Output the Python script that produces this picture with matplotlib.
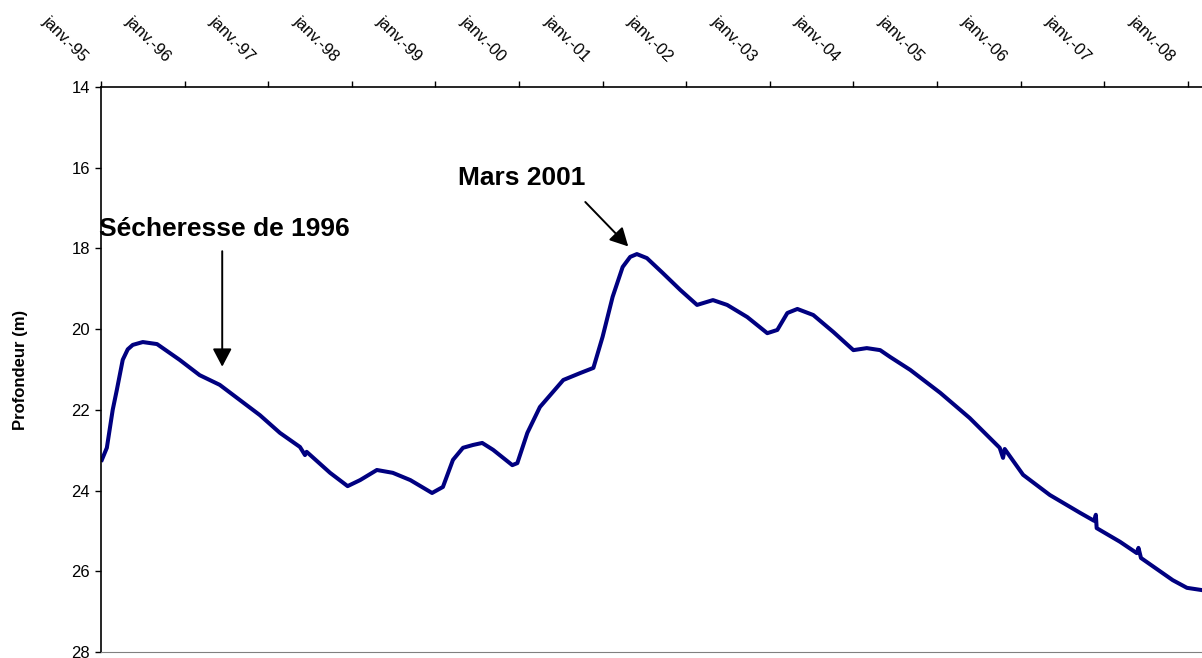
import matplotlib
matplotlib.use("Agg")
import matplotlib.pyplot as plt
from matplotlib.transforms import ScaledTranslation

plt.rcParams['font.family'] = ['Liberation Sans', 'DejaVu Sans']

# Decimal years of readings and water depth (m)
annees = [1995.01, 1995.07, 1995.14, 1995.19, 1995.26, 1995.32, 1995.38, 1995.50, 1995.67,
          1995.94, 1996.18, 1996.42, 1996.58, 1996.90, 1997.14, 1997.38, 1997.44,
          1997.46, 1997.74, 1997.95, 1998.10, 1998.30, 1998.49, 1998.70, 1998.96,
          1999.09, 1999.21, 1999.33, 1999.45, 1999.56, 1999.69, 1999.92, 1999.98,
          2000.10, 2000.25, 2000.53, 2000.73, 2000.89, 2001.00, 2001.12, 2001.24,
          2001.33, 2001.41, 2001.53, 2001.72, 2001.93, 2002.13, 2002.32, 2002.49,
          2002.73, 2002.97, 2003.09, 2003.21, 2003.33, 2003.52, 2003.76, 2004.00,
          2004.16, 2004.32, 2004.44, 2004.68, 2005.04, 2005.39, 2005.75, 2005.79,
          2005.81, 2006.03, 2006.35, 2006.71, 2006.88, 2006.90, 2006.91, 2007.19,
          2007.39, 2007.41, 2007.44, 2007.82, 2007.99, 2008.15]
profondeur = [23.24, 22.94, 22.00, 21.50, 20.76, 20.50, 20.39, 20.32, 20.37,
              20.76, 21.14, 21.38, 21.63, 22.13, 22.57, 22.92, 23.12,
              23.04, 23.56, 23.89, 23.74, 23.49, 23.56, 23.74, 24.06,
              23.91, 23.24, 22.94, 22.87, 22.82, 22.99, 23.37, 23.32,
              22.57, 21.93, 21.26, 21.09, 20.96, 20.19, 19.20, 18.46,
              18.21, 18.14, 18.24, 18.61, 19.03, 19.40, 19.28, 19.40,
              19.70, 20.10, 20.02, 19.60, 19.50, 19.65, 20.07, 20.52,
              20.47, 20.52, 20.69, 21.01, 21.58, 22.20, 22.94, 23.19,
              22.97, 23.61, 24.11, 24.55, 24.75, 24.60, 24.93, 25.27,
              25.55, 25.42, 25.67, 26.22, 26.41, 26.46]

tick_annees = list(range(1995, 2009))
tick_labels = ['janv.-95', 'janv.-96', 'janv.-97', 'janv.-98', 'janv.-99', 'janv.-00',
               'janv.-01', 'janv.-02', 'janv.-03', 'janv.-04', 'janv.-05', 'janv.-06',
               'janv.-07', 'janv.-08']
y_ticks = [14, 16, 18, 20, 22, 24, 26, 28]

fig = plt.figure(figsize=(12.02, 6.58), dpi=100)
ax = fig.add_axes([101/1202, 1 - 652/658, 1 - 101/1202, (652 - 87)/658])

ax.plot(annees, profondeur, color='#000080', lw=2.9, solid_joinstyle='round')

ax.set_xlim(1995.0, 2008.17)
ax.set_ylim(28, 14)
ax.set_yticks(y_ticks)
ax.set_yticklabels([str(v) for v in y_ticks], fontsize=12)
ax.xaxis.tick_top()
ax.set_xticks(tick_annees)
ax.set_xticklabels(tick_labels, fontsize=11.8, rotation=-45,
                   rotation_mode='anchor', ha='right', va='center')
ax.tick_params(axis='x', direction='out', length=4, width=1, pad=0)
ax.tick_params(axis='y', direction='out', length=4, width=1, pad=4)
off = ScaledTranslation(-16/100, 22/100, fig.dpi_scale_trans)
for lab in ax.get_xticklabels():
    lab.set_transform(lab.get_transform() + off)

ax.spines['right'].set_visible(False)
ax.spines['bottom'].set_color('#808080')
ax.spines['top'].set_linewidth(1.2)
ax.spines['left'].set_linewidth(1.2)

ax.set_ylabel('Profondeur (m)', fontsize=12, fontweight='bold', labelpad=31)

ax.text(1996.47, 17.52, 'Sécheresse de 1996', fontsize=19, fontweight='bold',
        ha='center', va='center')
ax.annotate('', xy=(1996.45, 21.0), xytext=(1996.45, 18.0),
            arrowprops=dict(arrowstyle='-|>,head_length=1.1,head_width=0.58',
                            color='black', lw=1.4))
ax.text(2000.03, 16.25, 'Mars 2001', fontsize=19, fontweight='bold',
        ha='center', va='center')
ax.annotate('', xy=(2001.33, 18.0), xytext=(2000.77, 16.8),
            arrowprops=dict(arrowstyle='-|>,head_length=1.1,head_width=0.58',
                            color='black', lw=1.4))

fig.savefig('out.png', dpi=100)
